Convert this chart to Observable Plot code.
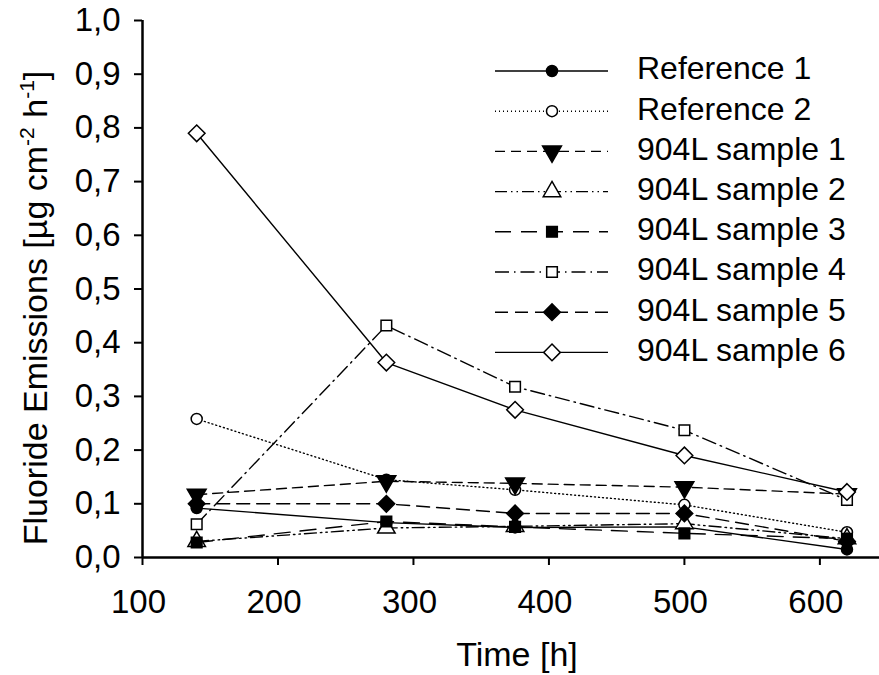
<!DOCTYPE html>
<html>
<head>
<meta charset="utf-8">
<script src="https://cdn.jsdelivr.net/npm/d3@7"></script>
<script src="https://cdn.jsdelivr.net/npm/@observablehq/plot@0.6"></script>
<style>
  html, body { margin: 0; padding: 0; background: white; }
</style>
</head>
<body>
<div id="chart"></div>
<script>
// ---- data ----
const times = [140, 280, 375, 500, 620];
const reference1 = [0.092, 0.065, 0.056, 0.057, 0.015];
const reference2 = [0.258, 0.145, 0.126, 0.098, 0.047];
const sample1 = [0.117, 0.142, 0.138, 0.131, 0.118];
const sample2 = [0.030, 0.055, 0.058, 0.063, 0.035];
const sample3 = [0.028, 0.067, 0.057, 0.045, 0.035];
const sample4 = [0.062, 0.432, 0.318, 0.237, 0.107];
const sample5 = [0.100, 0.100, 0.082, 0.082, 0.030];
const sample6 = [0.790, 0.363, 0.275, 0.190, 0.122];
const seriesNames = ["Reference 1", "Reference 2", "904L sample 1", "904L sample 2",
                     "904L sample 3", "904L sample 4", "904L sample 5", "904L sample 6"];
const seriesValues = [reference1, reference2, sample1, sample2, sample3, sample4, sample5, sample6];
const xTicks = [100, 200, 300, 400, 500, 600];
const yTicks = [0, 0.1, 0.2, 0.3, 0.4, 0.5, 0.6, 0.7, 0.8, 0.9, 1.0];
const yTickLabels = ["0,0", "0,1", "0,2", "0,3", "0,4", "0,5", "0,6", "0,7", "0,8", "0,9", "1,0"];

// ---- styles ----
const triangleDown = {
  draw(ctx, size) {
    const y = -Math.sqrt(size / (Math.sqrt(3) * 3));
    const s3 = Math.sqrt(3);
    ctx.moveTo(0, -y * 2);
    ctx.lineTo(-s3 * y, y);
    ctx.lineTo(s3 * y, y);
    ctx.closePath();
  }
};
const styles = [
  {dash: null, symbol: "circle", filled: true, r: 5.5},
  {dash: "1,3", symbol: "circle", filled: false, r: 5.5},
  {dash: "10,6", symbol: triangleDown, filled: true, r: 7},
  {dash: "12,4,1.5,4,1.5,4", symbol: "triangle", filled: false, r: 6.5},
  {dash: "16,10", symbol: "square", filled: true, r: 6},
  {dash: "14,5,1.5,5", symbol: "square", filled: false, r: 6},
  {dash: "13,7", symbol: "diamond2", filled: true, r: 7.5},
  {dash: null, symbol: "diamond2", filled: false, r: 7.5}
];

const FONT = "Liberation Sans, Arial, Helvetica, sans-serif";
const FS_TICK = 33;
const FS_TITLE = 34;
const FS_LEG = 32;

const rows = [];
seriesValues.forEach((vals, k) => vals.forEach((v, i) => rows.push({series: k, time: times[i], value: v})));

const marks = [
  Plot.axisY({ticks: yTicks, tickSize: 8, tickPadding: 14, label: null, fontSize: FS_TICK,
    strokeWidth: 2, tickFormat: d => yTickLabels[yTicks.indexOf(d)]}),
  Plot.axisX({ticks: xTicks, tickSize: 8, label: null, strokeWidth: 2, tickFormat: () => ""}),
  Plot.axisX({ticks: xTicks, tickSize: 0, tickPadding: 32, label: null, fontSize: FS_TICK, dx: -4}),
  Plot.ruleX([100], {strokeWidth: 2.5}),
  Plot.ruleY([0], {strokeWidth: 2.5})
];
styles.forEach((st, k) => {
  const data = rows.filter(d => d.series === k);
  marks.push(Plot.line(data, {x: "time", y: "value", stroke: "black", strokeWidth: 1.4,
    strokeDasharray: st.dash || undefined}));
});
styles.forEach((st, k) => {
  const data = rows.filter(d => d.series === k);
  marks.push(Plot.dot(data, {x: "time", y: "value", symbol: st.symbol, r: st.r,
    fill: st.filled ? "black" : "white", stroke: "black", strokeWidth: 1.5}));
});

const chart = Plot.plot({
  width: 879, height: 675,
  marginLeft: 142, marginRight: 0, marginTop: 20, marginBottom: 118,
  style: {fontFamily: FONT, fontSize: FS_TICK + "px", background: "white", color: "black", overflow: "visible"},
  x: {domain: [100, 644]},
  y: {domain: [0, 1]},
  marks
});
document.getElementById("chart").appendChild(chart);

// ---- titles & legend ----
const svg = d3.select(chart);
svg.append("text").attr("x", 517).attr("y", 657).attr("text-anchor", "middle")
  .attr("dominant-baseline", "middle").attr("font-family", FONT).attr("font-size", FS_TITLE)
  .attr("fill", "black").text("Time [h]");

const yl = svg.append("text").attr("transform", "translate(47,308) rotate(-90)")
  .attr("text-anchor", "middle").attr("font-family", FONT).attr("font-size", FS_TITLE)
  .attr("fill", "black");
yl.append("tspan").text("Fluoride Emissions [µg cm");
yl.append("tspan").attr("font-size", 21).attr("dy", -13).text("-2");
yl.append("tspan").attr("dy", 13).text(" h");
yl.append("tspan").attr("font-size", 21).attr("dy", -13).text("-1");
yl.append("tspan").attr("dy", 13).text("]");

const lg = svg.append("g");
seriesNames.forEach((name, k) => {
  const st = styles[k];
  const y = 71 + 40.2 * k;
  lg.append("line").attr("x1", 495).attr("x2", 608).attr("y1", y).attr("y2", y)
    .attr("stroke", "black").attr("stroke-width", 1.4)
    .attr("stroke-dasharray", st.dash || null);
  const sym = typeof st.symbol === "string" ?
    {circle: d3.symbolCircle, triangle: d3.symbolTriangle, square: d3.symbolSquare, diamond2: d3.symbolDiamond2}[st.symbol]
    : st.symbol;
  lg.append("path").attr("d", d3.symbol(sym, Math.PI * st.r * st.r)())
    .attr("transform", `translate(552,${y})`)
    .attr("fill", st.filled ? "black" : "white").attr("stroke", "black").attr("stroke-width", 1.5);
  lg.append("text").attr("x", 637).attr("y", y).attr("text-anchor", "start")
    .attr("dominant-baseline", "middle")
    .attr("font-family", FONT).attr("font-size", FS_LEG).attr("fill", "black").text(name);
});
</script>
</body>
</html>
